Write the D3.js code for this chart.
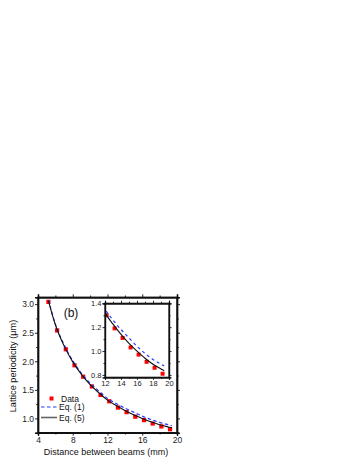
<!DOCTYPE html>
<html>
<head>
<meta charset="utf-8">
<script src="https://cdn.jsdelivr.net/npm/d3@7"></script>
<style>
  body { margin: 0; background: #fff; }
  svg { display: block; font-family: Arial, "Liberation Sans", sans-serif; }
</style>
</head>
<body>
<div id="chart"></div>
<script>
// measured data points
const dataX = [5.2, 6.2, 7.2, 8.2, 9.2, 10.2, 11.2, 12.2, 13.2, 14.2, 15.2, 16.2, 17.2, 18.2, 19.2];
const dataY = [3.04, 2.54, 2.21, 1.93, 1.73, 1.56, 1.41, 1.30, 1.19, 1.11, 1.03, 0.97, 0.91, 0.86, 0.81];

// Eq. (1) dashed and Eq. (5) solid
const curveX = [5.2, 6, 7, 8, 9, 10, 11, 12, 13, 14, 15, 16, 17, 18, 19, 19.4];
const eq1Y = [3.07, 2.65, 2.29, 2.01, 1.79, 1.62, 1.48, 1.35, 1.26, 1.18, 1.11, 1.04, 0.98, 0.93, 0.89, 0.875];
const eq5Y = [3.06, 2.64, 2.27, 1.99, 1.77, 1.59, 1.45, 1.32, 1.225, 1.14, 1.065, 1.0, 0.94, 0.89, 0.85, 0.835];

const mainXTicks = [4, 8, 12, 16, 20];
const mainYTicks = [1.0, 1.5, 2.0, 2.5, 3.0];
const insetXTicks = [12, 14, 16, 18, 20];
const insetYTicks = [0.8, 1.0, 1.2, 1.4];

const W = 360, H = 466;
const svg = d3.select("#chart").append("svg").attr("width", W).attr("height", H);

const points = dataX.map((x, i) => ({ x, y: dataY[i] }));
const eq1 = curveX.map((x, i) => ({ x, y: eq1Y[i] }));
const eq5 = curveX.map((x, i) => ({ x, y: eq5Y[i] }));

function drawPanel(g, x, y, o) {
  const [x0, x1] = x.range();
  const [y0, y1] = y.range();
  g.append("rect").attr("x", x0).attr("y", y1).attr("width", x1 - x0).attr("height", y0 - y1)
    .attr("fill", "#fff");

  const clipId = "clip" + o.id;
  g.append("clipPath").attr("id", clipId).append("rect")
    .attr("x", x0).attr("y", y1).attr("width", x1 - x0).attr("height", y0 - y1);
  const plot = g.append("g").attr("clip-path", `url(#${clipId})`);

  const line = d3.line().x(d => x(d.x)).y(d => y(d.y)).curve(d3.curveMonotoneX);

  plot.selectAll("rect.pt").data(points).enter().append("rect")
    .attr("class", "pt")
    .attr("x", d => x(d.x) - o.ms / 2).attr("y", d => y(d.y) - o.ms / 2)
    .attr("width", o.ms).attr("height", o.ms).attr("fill", "#f00");

  plot.append("path").datum(eq1).attr("d", line).attr("fill", "none")
    .attr("stroke", "#2b3cff").attr("stroke-width", 1.2).attr("stroke-dasharray", o.dash);
  plot.append("path").datum(eq5).attr("d", line).attr("fill", "none")
    .attr("stroke", "#111").attr("stroke-width", 1.1);

  const fs = o.fs;
  g.append("g").attr("transform", `translate(0,${y0})`)
    .call(d3.axisBottom(x).tickValues(o.xTicks).tickSize(o.tk).tickPadding(1).tickFormat(d3.format("d")));
  g.append("g").attr("transform", `translate(0,${y0})`)
    .call(d3.axisBottom(x).tickValues(o.xMinor).tickSize(o.tk * 0.6).tickFormat(""));
  g.append("g").attr("transform", `translate(${x0},0)`)
    .call(d3.axisLeft(y).tickValues(o.yTicks).tickSize(o.tk).tickPadding(1).tickFormat(d3.format(".1f")));
  g.append("g").attr("transform", `translate(${x0},0)`)
    .call(d3.axisLeft(y).tickValues(o.yMinor).tickSize(o.tk * 0.6).tickFormat(""));
  // mirrored axes
  g.append("g").attr("transform", `translate(0,${y1})`)
    .call(d3.axisTop(x).tickValues(o.xTicks).tickSize(o.tk).tickFormat(""));
  g.append("g").attr("transform", `translate(0,${y1})`)
    .call(d3.axisTop(x).tickValues(o.xMinor).tickSize(o.tk * 0.6).tickFormat(""));
  g.append("g").attr("transform", `translate(${x1},0)`)
    .call(d3.axisRight(y).tickValues(o.yTicks).tickSize(o.tk).tickFormat(""));
  g.append("g").attr("transform", `translate(${x1},0)`)
    .call(d3.axisRight(y).tickValues(o.yMinor).tickSize(o.tk * 0.6).tickFormat(""));

  g.selectAll(".domain").attr("stroke", "#111").attr("stroke-width", o.sw);
  g.selectAll(".tick line").attr("stroke", "#111").attr("stroke-width", 0.9);
  g.selectAll(".tick text").attr("font-size", fs).attr("fill", "#222")
    .attr("font-family", "Arial, 'Liberation Sans', sans-serif");
  g.append("rect").attr("x", x0).attr("y", y1).attr("width", x1 - x0).attr("height", y0 - y1)
    .attr("fill", "none").attr("stroke", "#111").attr("stroke-width", o.sw);
}

// main panel
const x = d3.scaleLinear().domain([4, 20]).range([38, 177]);
const y = d3.scaleLinear().domain([0.75, 3.12]).range([432.7, 297.3]);
const main = svg.append("g");
drawPanel(main, x, y, {
  id: "main", ms: 4.2, dash: "3.5,2.5", fs: 8.5, tk: 3, sw: 1.4,
  xTicks: mainXTicks, xMinor: [6, 10, 14, 18],
  yTicks: mainYTicks, yMinor: [1.25, 1.75, 2.25, 2.75]
});

// inset panel
const xi = d3.scaleLinear().domain([12, 20]).range([105, 169]);
const yi = d3.scaleLinear().domain([0.78, 1.4]).range([377.3, 303.3]);
const inset = svg.append("g");
drawPanel(inset, xi, yi, {
  id: "inset", ms: 4, dash: "3,3", fs: 7.5, tk: 2.5, sw: 1.2,
  xTicks: insetXTicks, xMinor: [13, 15, 17, 19],
  yTicks: insetYTicks, yMinor: [0.9, 1.1, 1.3]
});

// panel label
svg.append("text").attr("x", 71).attr("y", 317).attr("text-anchor", "middle")
  .attr("font-size", 12).attr("fill", "#111").text("(b)");

// axis titles
svg.append("text").attr("x", 106).attr("y", 455).attr("text-anchor", "middle")
  .attr("font-size", 9).attr("fill", "#111").text("Distance between beams (mm)");
svg.append("text").attr("transform", "translate(16,366) rotate(-90)").attr("text-anchor", "middle")
  .attr("font-size", 9.2).attr("fill", "#111").text("Lattice periodicity (\u03bcm)");

// legend
const legend = svg.append("g").attr("font-size", 8.5).attr("fill", "#111");
legend.append("rect").attr("x", 49.5).attr("y", 396.5).attr("width", 4).attr("height", 4).attr("fill", "#f00");
legend.append("text").attr("x", 61).attr("y", 401.5).text("Data");
legend.append("line").attr("x1", 41).attr("x2", 57).attr("y1", 407).attr("y2", 407)
  .attr("stroke", "#2b3cff").attr("stroke-width", 1.2).attr("stroke-dasharray", "3.5,2.5");
legend.append("text").attr("x", 59).attr("y", 410).text("Eq. (1)");
legend.append("line").attr("x1", 41).attr("x2", 57).attr("y1", 417.5).attr("y2", 417.5)
  .attr("stroke", "#666").attr("stroke-width", 1.6);
legend.append("text").attr("x", 59).attr("y", 420.5).text("Eq. (5)");
</script>
</body>
</html>
